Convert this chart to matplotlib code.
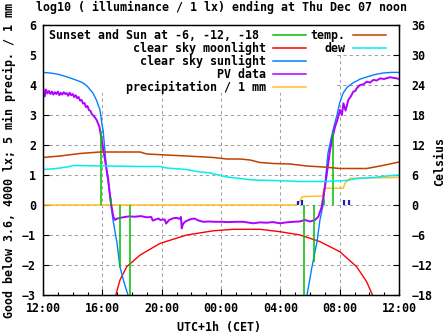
import matplotlib
matplotlib.use("Agg")
import matplotlib.pyplot as plt
from matplotlib.lines import Line2D
from matplotlib.patches import Rectangle

nan = float("nan")

# time axis: hours after Wed 12:00 (UTC+1h)
hour_ticks = [0, 4, 8, 12, 16, 20, 24]
hour_labels = ["12:00", "16:00", "20:00", "00:00", "04:00", "08:00", "12:00"]

# clear sky sunlight, log10(lx)
sun_h = [0.0, 0.5, 1.0, 1.62, 2.2, 2.70, 3.0, 3.37, 3.6, 3.84, 3.98, 4.05, 4.29, 4.58, 4.72, 4.99,
         5.19, 5.46, 5.73, 5.85, nan,
         17.68, 17.80, 18.13, 18.47, 18.67, 18.88, 18.94, 19.21, 19.55, 19.82, 20.0, 20.23, 20.5,
         20.90, 21.4, 21.84, 22.4, 22.92, 23.5, 24.0]
sun_lg = [4.42, 4.40, 4.36, 4.27, 4.17, 4.07, 3.95, 3.73, 3.50, 3.17, 2.67, 2.50, 1.17, 0.00, -0.50, -1.27,
          -2.07, -2.57, -3.00, -3.20, nan,
          -3.20, -3.00, -2.07, -1.23, -0.50, 0.00, 0.30, 1.73, 2.50, 3.00, 3.40, 3.73, 3.92,
          4.07, 4.20, 4.27, 4.35, 4.40, 4.42, 4.42]

# clear sky moonlight, log10(lx)
moon_h = [4.85, 5.19, 5.64, 6.54, 7.89, 9.69, 11.48, 12.83, 14.63, 15.98, 17.33, 18.67, 20.02, 21.15, 21.82, 22.30]
moon_lg = [-3.10, -2.50, -2.06, -1.67, -1.28, -1.00, -0.86, -0.81, -0.81, -0.89, -1.00, -1.22, -1.56, -2.06, -2.56, -3.10]

# sunset / sun at -6, -12, -18 deg: time and end of marker line
event_h = [3.91, 4.59, 5.19, 5.84, 17.60, 18.27, 18.95, 19.55]
event_top = [2.47, 0.23, -2.07, -3.20, -3.20, -1.90, 0.20, 2.42]

# PV sensor, log10(lx)
pv_h = [0.00, 0.05, 0.12, 0.20, 0.30, 0.40, 0.50, 0.60, 0.70, 0.80, 0.90, 1.00, 1.10, 1.20, 1.30,
        1.40, 1.50, 1.60, 1.70, 1.80, 1.90, 2.00, 2.10, 2.20, 2.30, 2.40, 2.50, 2.60, 2.70, 2.80,
        2.90, 3.00, 3.10, 3.20, 3.30, 3.40, 3.50, 3.62, 3.80, 3.96, 4.18, 4.40, 4.58, 4.74, 4.85,
        4.95, 5.19, 5.50, 5.80, 6.20, 6.60, 7.00, 7.30, 7.40, 7.60, 7.80, 7.90, 8.20, 8.30, 8.50,
        8.80, 9.00, 9.20, 9.30, 9.35, 9.45, 9.60, 9.90, 10.20, 10.50, 10.80, 11.20, 11.60, 12.00, 12.50,
        13.00, 13.50, 14.18, 14.60, 15.08, 15.50, 15.98, 16.40, 16.87, 17.30, 17.66, 18.00, 18.34, 18.56, 18.79,
        19.01, 19.17, 19.35, 19.53, 19.69, 19.84, 20.02, 20.15, 20.25, 20.40, 20.47, 20.58, 20.75, 20.92, 21.05,
        21.15, 21.37, 21.60, 21.82, 22.05, 22.27, 22.50, 22.72, 23.00, 23.39, 23.60, 23.85, 24.00]
pv_lg = [3.95, 3.80, 3.62, 3.85, 3.72, 3.80, 3.70, 3.78, 3.68, 3.76, 3.70, 3.78, 3.66, 3.74, 3.68,
         3.76, 3.70, 3.73, 3.64, 3.74, 3.66, 3.70, 3.60, 3.66, 3.56, 3.60, 3.48, 3.50, 3.38, 3.40,
         3.26, 3.30, 3.16, 3.14, 3.02, 2.98, 2.92, 2.83, 2.61, 2.17, 1.50, 0.83, 0.07, -0.39, -0.50,
         -0.46, -0.43, -0.40, -0.38, -0.39, -0.37, -0.41, -0.40, -0.52, -0.48, -0.45, -0.50, -0.48, -0.62, -0.50,
         -0.44, -0.43, -0.46, -0.40, -0.78, -0.62, -0.55, -0.48, -0.45, -0.52, -0.56, -0.55, -0.56, -0.56, -0.57,
         -0.56, -0.56, -0.61, -0.58, -0.59, -0.57, -0.61, -0.58, -0.56, -0.55, -0.50, -0.55, -0.50, -0.39, -0.06,
         0.61, 1.17, 1.83, 2.28, 2.61, 2.83, 3.17, 3.00, 3.39, 3.15, 3.28, 3.50, 3.62, 3.78, 3.80,
         3.89, 4.00, 4.02, 4.11, 4.08, 4.17, 4.15, 4.22, 4.20, 4.26, 4.24, 4.22, 4.20]

# accumulated precipitation / 1 mm
precip_h = [0.0, 17.10, 17.33, 17.48, 18.85, 18.93, 20.25, 20.35, 20.70, 24.0]
precip_mm = [0.0, 0.0, 0.14, 0.28, 0.30, 0.56, 0.56, 0.72, 0.89, 0.92]

# 5 min precipitation
rain_h = [17.20, 17.48, 18.86, 20.31, 20.63]
rain_mm = [0.13, 0.17, 0.17, 0.17, 0.17]

# temperature and dew point, Celsius
temp_h = [0.0, 1.15, 2.49, 3.84, 6.54, 6.99, 8.34, 9.69, 11.48, 12.38, 13.28, 13.96, 14.63, 15.53,
          16.65, 17.78, 18.90, 20.02, 21.82, 22.72, 23.39, 24.0]
temp_c = [9.5, 9.8, 10.3, 10.6, 10.6, 10.2, 10.0, 9.8, 9.5, 9.2, 9.2, 9.0, 8.5, 8.3,
          8.2, 7.8, 7.6, 7.3, 7.3, 7.8, 8.2, 8.6]
dew_h = [0.0, 0.92, 1.82, 2.04, 6.54, 7.89, 8.34, 9.69, 10.37, 11.26, 12.38, 13.28, 14.18, 15.53,
         17.33, 19.10, 20.45, 21.15, 22.27, 23.17, 24.0]
dew_c = [7.1, 7.3, 7.7, 7.9, 7.7, 7.7, 7.4, 7.1, 6.7, 6.4, 5.6, 5.3, 5.0, 4.9,
         4.7, 4.7, 4.9, 5.3, 5.5, 5.8, 6.0]

C_GREEN = "#00c000"
C_RED = "#ff0000"
C_BLUE = "#0080ff"
C_PV = "#b000ff"
C_PREC = "#ffc020"
C_TEMP = "#c04000"
C_DEW = "#00eeee"
C_RAIN = "#2020c0"

plt.rcParams["font.family"] = ["DejaVu Sans Mono"]
plt.rcParams["font.weight"] = "bold"
plt.rcParams["font.size"] = 8.4

fig = plt.figure(figsize=(4.47, 3.35), dpi=100)
ax = fig.add_axes([43 / 447, 40 / 335, 356 / 447, 270 / 335])
ax2 = ax.twinx()

ax.set_xlim(0, 24)
ax.set_ylim(-3, 6)
ax2.set_ylim(-18, 36)
ax.set_xticks(hour_ticks)
ax.set_xticklabels(hour_labels)
ax.set_xticks(range(0, 25), minor=True)
ax.set_yticks(range(-3, 7))
ax2.set_yticks(range(-18, 37, 6))

ax.set_axisbelow(True)
ax.grid(True, color="#a0a0a0", linestyle=(0, (3, 3)), linewidth=0.75)

ax.tick_params(axis="x", which="both", direction="in", top=True, pad=5)
ax.tick_params(axis="x", which="major", length=4, width=0.8)
ax.tick_params(axis="x", which="minor", length=2, width=0.8)
ax.tick_params(axis="y", direction="in", length=4, width=0.8, right=False, pad=5)
ax2.tick_params(axis="y", direction="in", length=4, width=0.8, pad=9)
for a in (ax, ax2):
    for s in a.spines.values():
        s.set_linewidth(0.9)

# white key background (hides grid only)
ax.add_patch(Rectangle((0, 0.748), 0.826, 0.252, transform=ax.transAxes,
                       facecolor="white", edgecolor="none", zorder=1))
ax.add_patch(Rectangle((0.826, 0.891), 0.154, 0.109, transform=ax.transAxes,
                       facecolor="white", edgecolor="none", zorder=1))

ax.plot(precip_h, precip_mm, color=C_PREC, lw=1.1, zorder=2)
ax.vlines(rain_h, 0, rain_mm, color=C_RAIN, lw=1.6, zorder=2)
ax.plot(moon_h, moon_lg, color=C_RED, lw=1.0, zorder=2)
ax.plot(sun_h, sun_lg, color=C_BLUE, lw=1.0, zorder=2)
ax.plot(pv_h, pv_lg, color=C_PV, lw=1.4, zorder=3)
ax.vlines(event_h, 0, event_top, color=C_GREEN, lw=1.1, zorder=4)

ax2.plot(temp_h, temp_c, color=C_TEMP, lw=1.1)
ax2.plot(dew_h, dew_c, color=C_DEW, lw=1.1)

key1 = [Line2D([], [], color=c, lw=1.1) for c in (C_GREEN, C_RED, C_BLUE, C_PV, C_PREC)]
lab1 = ["Sunset and Sun at -6, -12, -18 ", "clear sky moonlight", "clear sky sunlight",
        "PV data", "precipitation / 1 mm"]
key2 = [Line2D([], [], color=c, lw=1.1) for c in (C_TEMP, C_DEW)]
lab2 = ["temp.", "dew"]
kw = dict(loc="upper right", markerfirst=False, frameon=False, borderpad=0, borderaxespad=0,
          handlelength=2.8, handletextpad=0.65, labelspacing=-0.01)
leg1 = ax.legend(key1, lab1, bbox_to_anchor=(0.739, 0.985), **kw)
ax.add_artist(leg1)
ax.legend(key2, lab2, bbox_to_anchor=(0.963, 0.985), **kw)

fig.text(221 / 447, 1 - 7 / 335, "log10 ( illuminance / 1 lx) ending at Thu Dec 07 noon",
         ha="center", va="center")
fig.text(219 / 447, 7 / 335, "UTC+1h (CET)", ha="center", va="center")
fig.text(9 / 447, 1 - 161 / 335, "Good below 3.6, 4000 lx; 5 min precip. / 1 mm",
         rotation=90, ha="center", va="center")
fig.text(440 / 447, 1 - 161 / 335, "Celsius", rotation=90, ha="center", va="center")

fig.savefig("out.png", dpi=100)
